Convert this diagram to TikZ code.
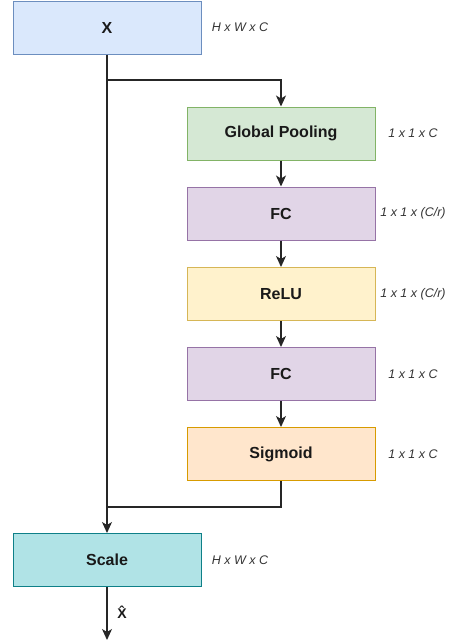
\documentclass[tikz,border=0pt]{standalone}
\usepackage{fontspec}
\setmainfont{Liberation Sans}
\usetikzlibrary{arrows.meta}
\definecolor{xfill}{HTML}{DAE8FC}\definecolor{xdraw}{HTML}{6C8EBF}
\definecolor{gfill}{HTML}{D5E8D4}\definecolor{gdraw}{HTML}{82B366}
\definecolor{pfill}{HTML}{E1D5E7}\definecolor{pdraw}{HTML}{9673A6}
\definecolor{yfill}{HTML}{FFF2CC}\definecolor{ydraw}{HTML}{D6B656}
\definecolor{ofill}{HTML}{FFE6CC}\definecolor{odraw}{HTML}{D79B00}
\definecolor{tfill}{HTML}{B0E3E6}\definecolor{tdraw}{HTML}{0E8088}
\definecolor{lbl}{HTML}{333333}
\tikzset{
  blk/.style={draw, line width=1pt, minimum width=188pt, minimum height=53pt, inner sep=0pt,
    font=\fontsize{16}{19}\selectfont\bfseries, text=black!90},
  dim/.style={font=\fontsize{12.5}{15}\selectfont\itshape, text=lbl, inner sep=0pt},
  conn/.style={line width=1.4pt, black!85},
  arr/.style={conn, -{Stealth[length=11pt,width=10pt,inset=3pt]}}
}
\begin{document}
\begin{tikzpicture}[x=1pt,y=-1pt]
\useasboundingbox (0,0) rectangle (448,643);
\node[blk, fill=xfill, draw=xdraw] (x) at (107,27.5) {X};
\node[blk, fill=gfill, draw=gdraw] (gp) at (281,133.5) {Global Pooling};
\node[blk, fill=pfill, draw=pdraw] (fc1) at (281,213.5) {FC};
\node[blk, fill=yfill, draw=ydraw] (relu) at (281,294) {ReLU};
\node[blk, fill=pfill, draw=pdraw] (fc2) at (281,374) {FC};
\node[blk, fill=ofill, draw=odraw] (sig) at (281,454) {Sigmoid};
\node[blk, fill=tfill, draw=tdraw] (scale) at (107,560) {Scale};

\node[dim] (dx) at (240,27.5) {H x W x C};
\node[dim] (dgp) at (413,133.5) {1 x 1 x C};
\node[dim] (dfc1) at (413,213.5) {1 x 1 x (C/r)};
\node[dim] (drelu) at (413,294) {1 x 1 x (C/r)};
\node[dim] (dfc2) at (413,374) {1 x 1 x C};
\node[dim] (dsig) at (413,454) {1 x 1 x C};
\node[dim] (dscale) at (240,560) {H x W x C};

\coordinate (b1) at (107,80);
\coordinate (b2) at (107,507);
\coordinate (out) at (107,640);

\draw[arr] (x) -- (scale);
\draw[arr] (b1) -| (gp);
\draw[arr] (gp) -- (fc1);
\draw[arr] (fc1) -- (relu);
\draw[arr] (relu) -- (fc2);
\draw[arr] (fc2) -- (sig);
\draw[conn] (sig) |- (b2);
\draw[arr] (scale) -- (out);
\node[font=\fontsize{14}{16}\selectfont\bfseries, text=black!90, inner sep=0pt] (xh) at (122,612) {\^{X}};
\end{tikzpicture}
\end{document}
